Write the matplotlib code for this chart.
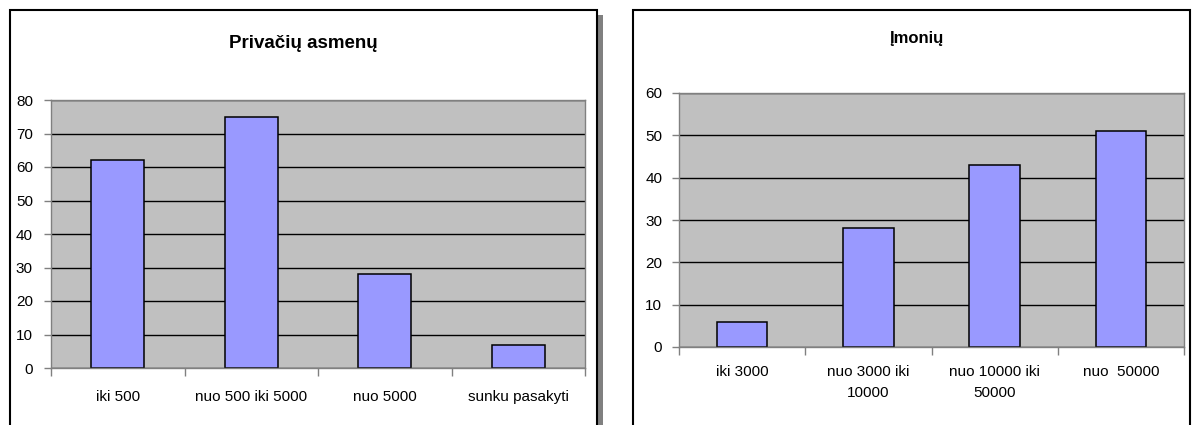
import matplotlib
matplotlib.use("Agg")
import matplotlib.pyplot as plt
from matplotlib.patches import Rectangle

plt.rcParams["font.family"] = ["Liberation Sans", "DejaVu Sans"]

# Private persons
priv_title = "Privačių asmenų"
priv_categories = ["iki 500", "nuo 500 iki 5000", "nuo 5000", "sunku pasakyti"]
priv_values = [62, 75, 28, 7]
priv_yticks = [0, 10, 20, 30, 40, 50, 60, 70, 80]

# Companies
comp_title = "Įmonių"
comp_categories = ["iki 3000", "nuo 3000 iki\n10000", "nuo 10000 iki\n50000", "nuo  50000"]
comp_values = [6, 28, 43, 51]
comp_yticks = [0, 10, 20, 30, 40, 50, 60]

W, H = 1192, 425
fig = plt.figure(figsize=(W / 100, H / 100), dpi=100)
fig.patch.set_facecolor("white")


def px_rect(x0, y0, x1, y1):
    """Convert pixel box (top-left origin) to figure fractions."""
    return [x0 / W, 1 - y1 / H, (x1 - x0) / W, (y1 - y0) / H]


def frame(x0, y0, x1, y1, shadow=False):
    if shadow:
        fig.patches.append(Rectangle((x1 / W, -0.1), 6 / W, 1 - 15 / H + 0.1,
                                     transform=fig.transFigure, facecolor="#808080",
                                     edgecolor="none", zorder=-2))
    fig.patches.append(Rectangle((x0 / W, -0.1), (x1 - x0) / W, 1 - y0 / H + 0.1,
                                 transform=fig.transFigure, facecolor="white",
                                 edgecolor="black", linewidth=1.5, zorder=-1))


def bar_panel(box, cats, vals, yticks, xpad, ypad):
    ax = fig.add_axes(px_rect(*box))
    ax.set_zorder(5)
    ax.set_facecolor("#C0C0C0")
    x = list(range(len(cats)))
    ax.set_axisbelow(True)
    ax.yaxis.grid(True, color="black", linewidth=1)
    ax.bar(x, vals, width=0.4, color="#9999FF", edgecolor="black", linewidth=1.1, zorder=3)
    ax.set_xlim(-0.5, len(cats) - 0.5)
    ax.set_ylim(yticks[0], yticks[-1])
    ax.set_yticks(yticks)
    ax.set_xticks([i + 0.5 for i in range(-1, len(cats))])
    ax.set_xticklabels([])
    ax.set_xticks(x, minor=True)
    ax.set_xticklabels(cats, minor=True, fontsize=11, linespacing=1.6, va="top")
    ax.tick_params(axis="x", which="minor", length=0, pad=xpad)
    ax.tick_params(axis="x", which="major", length=6, width=1, color="#808080", direction="out")
    ax.tick_params(axis="y", length=5, width=1, color="#808080", pad=ypad, labelsize=11)
    for sp in ax.spines.values():
        sp.set_color("#808080")
        sp.set_linewidth(1)
        sp.set_zorder(4)
    return ax


frame(10, 10, 597, 500, shadow=True)
frame(633, 10, 1190, 500)

bar_panel((51, 100, 585, 368), priv_categories, priv_values, priv_yticks, xpad=16, ypad=8)
bar_panel((679, 93, 1184, 347), comp_categories, comp_values, comp_yticks, xpad=13, ypad=7)

fig.text(303 / W, 1 - 43 / H, priv_title, ha="center", va="center",
         fontsize=13.5, fontweight="bold")
fig.text(916 / W, 1 - 38 / H, comp_title, ha="center", va="center",
         fontsize=12, fontweight="bold")

fig.savefig("out.png", dpi=100)
